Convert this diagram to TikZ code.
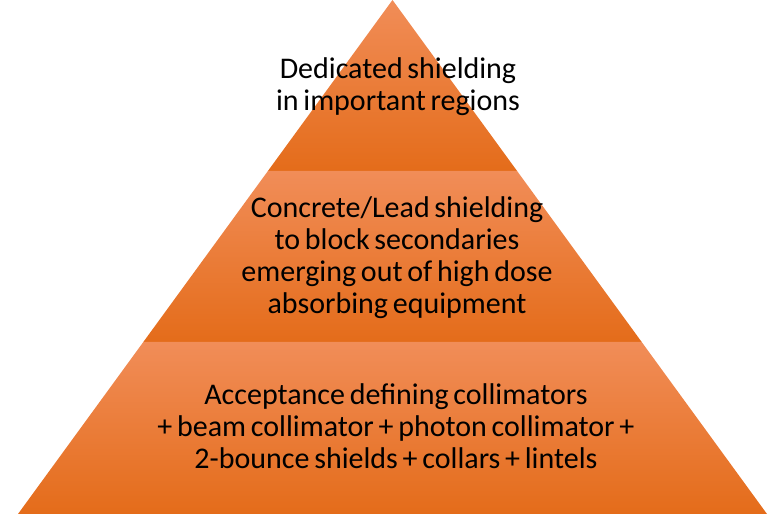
\documentclass[tikz,border=0pt]{standalone}
\usepackage{fontspec}
\setmainfont[WordSpace=0.7]{Carlito}
\usetikzlibrary{calc}
\definecolor{tierTop}{HTML}{F18D58}
\definecolor{tierMid}{HTML}{F57D28}
\definecolor{tierBot}{HTML}{E46C1A}
\begin{document}
\begin{tikzpicture}[x=1pt,y=-1pt,
  tier/.style={top color=tierTop,middle color=tierMid,bottom color=tierBot,draw=none},
  label/.style={align=center,font=\fontsize{30}{32}\selectfont,text=black,inner sep=0pt}]
\useasboundingbox (0,0) rectangle (769,514);
% pyramid geometry: apex (392.5,0), base from (18,514) to (767,514)
\coordinate (apex) at (392.5,0);
\coordinate (bl) at (18,514);
\coordinate (br) at (767,514);
\coordinate (l1) at ($(apex)!171/514!(bl)$);
\coordinate (r1) at ($(apex)!171/514!(br)$);
\coordinate (l2) at ($(apex)!342/514!(bl)$);
\coordinate (r2) at ($(apex)!342/514!(br)$);
\shade[tier] (apex) -- (r1) -- (l1) -- cycle;
\shade[tier] (l1) -- (r1) -- (r2) -- (l2) -- cycle;
\shade[tier] (l2) -- (r2) -- (br) -- (bl) -- cycle;
\node[label] (t1) at (398,87) {Dedicated shielding\\in important regions};
\node[label] (t2) at (397,258) {Concrete/Lead shielding\\to block secondaries\\emerging out of high dose\\absorbing equipment};
\node[label] (t3) at (396,426) {Acceptance defining collimators\\+ beam collimator + photon collimator +\\2-bounce shields + collars + lintels};
\end{tikzpicture}
\end{document}
